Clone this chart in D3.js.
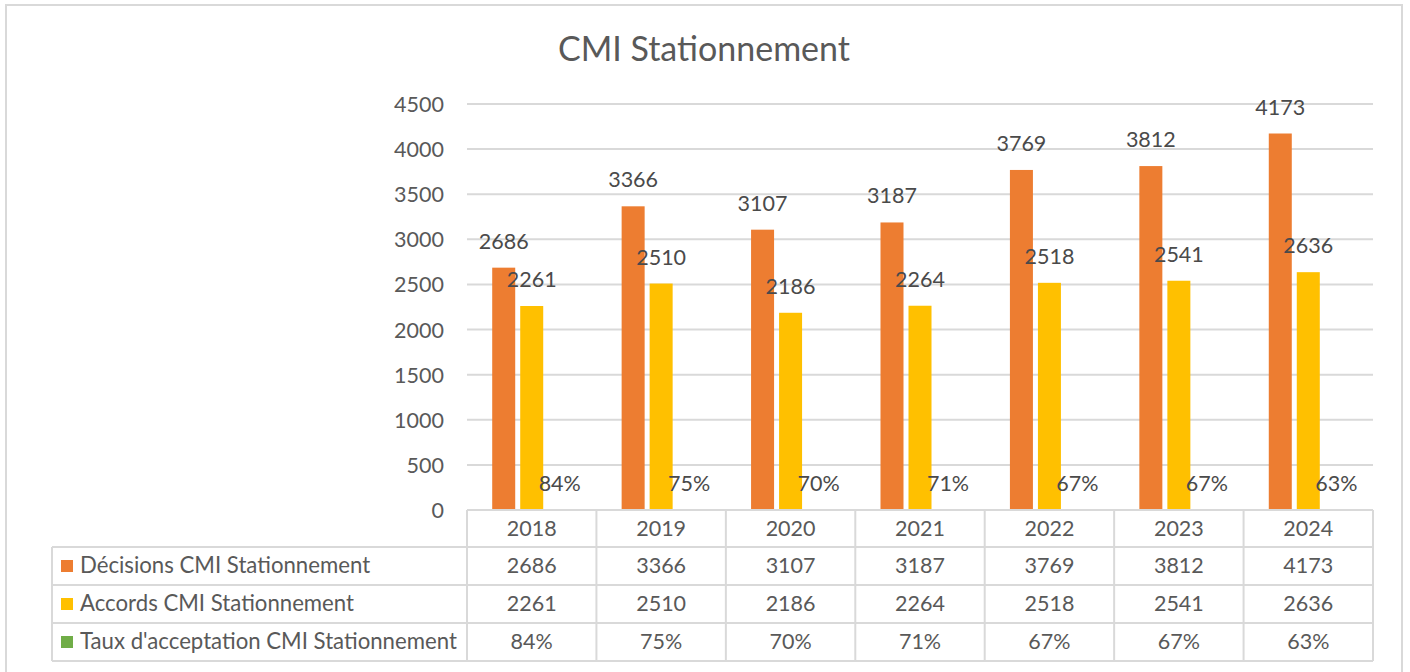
<!DOCTYPE html>
<html>
<head>
<meta charset="utf-8">
<script src="https://cdn.jsdelivr.net/npm/d3@7/dist/d3.min.js"></script>
<style>
  html, body { margin: 0; padding: 0; background: #fff; }
  svg { display: block; }
  text { font-family: Lato, "Open Sans", sans-serif; }
</style>
</head>
<body>
<svg id="chart" width="1410" height="672"></svg>
<script>
// ---- data ----
const years = ["2018", "2019", "2020", "2021", "2022", "2023", "2024"];
const decisions = [2686, 3366, 3107, 3187, 3769, 3812, 4173];
const accords = [2261, 2510, 2186, 2264, 2518, 2541, 2636];
const taux = [0.84, 0.75, 0.70, 0.71, 0.67, 0.67, 0.63];
const seriesNames = ["Décisions CMI Stationnement", "Accords CMI Stationnement", "Taux d'acceptation CMI Stationnement"];
const seriesColors = ["#ED7D31", "#FFC000", "#70AD47"];
const yTicks = [0, 500, 1000, 1500, 2000, 2500, 3000, 3500, 4000, 4500];
const chartTitle = "CMI Stationnement";

const seriesValues = [decisions, accords, taux];
const pct = d3.format(".0%");
const fmt = (si, v) => si === 2 ? pct(v) : String(v);

// ---- layout ----
const svg = d3.select("#chart");
const plot = { left: 467, right: 1373, top: 104, bottom: 510 };
const tableLeft = 52;
const rowEdges = [510, 547, 585, 623, 661];
const textColor = "#595959";
const labelColor = "#4a4a4a";
const lineColor = "#d9d9d9";
const fontSize = 21.5;

// outer frame
svg.append("rect")
  .attr("x", 6).attr("y", 5).attr("width", 1396).attr("height", 680)
  .attr("fill", "#fff").attr("stroke", lineColor).attr("stroke-width", 2);

// title
svg.append("text")
  .attr("x", 704).attr("y", 61)
  .attr("text-anchor", "middle")
  .attr("font-size", 34).attr("fill", textColor)
  .text(chartTitle);

// scales
const x = d3.scaleBand().domain(years).range([plot.left, plot.right]).padding(0);
const xs = d3.scaleBand().domain(d3.range(3)).range([0, x.bandwidth()])
  .paddingInner(5 / 28).paddingOuter(0.9);
const y = d3.scaleLinear().domain([0, 4500]).range([plot.bottom, plot.top]);

// gridlines (zero line is drawn by the data table)
svg.append("g").selectAll("line")
  .data(yTicks.filter(t => t > 0))
  .join("line")
  .attr("x1", plot.left).attr("x2", plot.right)
  .attr("y1", d => y(d)).attr("y2", d => y(d))
  .attr("stroke", lineColor).attr("stroke-width", 2);

// y axis labels
const yAxis = d3.axisLeft(y).tickValues(yTicks).tickFormat(d3.format("d")).tickSize(0).tickPadding(0);
const gy = svg.append("g").attr("transform", "translate(444,0)").call(yAxis);
gy.select(".domain").remove();
gy.selectAll("text")
  .attr("font-family", "Lato, 'Open Sans', sans-serif")
  .attr("font-size", fontSize).attr("fill", textColor).attr("dy", "0.35em");

// bars
const groups = svg.append("g").selectAll("g")
  .data(years)
  .join("g")
  .attr("transform", d => `translate(${x(d)},0)`);

groups.each(function (yr, i) {
  const g = d3.select(this);
  seriesValues.forEach((vals, si) => {
    const v = vals[i];
    g.append("rect")
      .attr("x", xs(si)).attr("width", xs.bandwidth())
      .attr("y", y(v)).attr("height", y(0) - y(v))
      .attr("fill", seriesColors[si]);
    g.append("text")
      .attr("x", xs(si) + xs.bandwidth() / 2)
      .attr("y", y(v) - 19)
      .attr("text-anchor", "middle")
      .attr("font-size", fontSize).attr("fill", labelColor)
      .text(fmt(si, v));
  });
});

// ---- data table ----
const table = svg.append("g").attr("stroke", lineColor).attr("stroke-width", 2).attr("fill", "none");
// horizontal lines
table.append("line").attr("x1", plot.left).attr("x2", plot.right).attr("y1", rowEdges[0]).attr("y2", rowEdges[0]);
rowEdges.slice(1).forEach(ry => {
  table.append("line").attr("x1", tableLeft).attr("x2", plot.right).attr("y1", ry).attr("y2", ry);
});
// vertical lines
const colEdges = years.map(d => x(d)).concat([plot.right]);
colEdges.forEach(cx => {
  table.append("line").attr("x1", cx).attr("x2", cx).attr("y1", rowEdges[0]).attr("y2", rowEdges[4]);
});
table.append("line").attr("x1", tableLeft).attr("x2", tableLeft).attr("y1", rowEdges[1]).attr("y2", rowEdges[4]);

// header (year) row
svg.append("g").selectAll("text")
  .data(years)
  .join("text")
  .attr("x", d => x(d) + x.bandwidth() / 2)
  .attr("y", (rowEdges[0] + rowEdges[1]) / 2)
  .attr("dy", "0.35em")
  .attr("text-anchor", "middle")
  .attr("font-size", fontSize).attr("fill", textColor)
  .text(d => d);

// series rows
seriesValues.forEach((vals, si) => {
  const cy = (rowEdges[si + 1] + rowEdges[si + 2]) / 2;
  svg.append("rect")
    .attr("x", 61).attr("y", cy - 6).attr("width", 12).attr("height", 12)
    .attr("fill", seriesColors[si]);
  svg.append("text")
    .attr("x", 80).attr("y", cy - 1).attr("dy", "0.35em")
    .attr("font-size", 22.2).attr("fill", textColor)
    .text(seriesNames[si]);
  svg.append("g").selectAll("text")
    .data(vals)
    .join("text")
    .attr("x", (d, i) => x(years[i]) + x.bandwidth() / 2)
    .attr("y", cy - 1).attr("dy", "0.35em")
    .attr("text-anchor", "middle")
    .attr("font-size", fontSize).attr("fill", textColor)
    .text(d => fmt(si, d));
});
</script>
</body>
</html>
